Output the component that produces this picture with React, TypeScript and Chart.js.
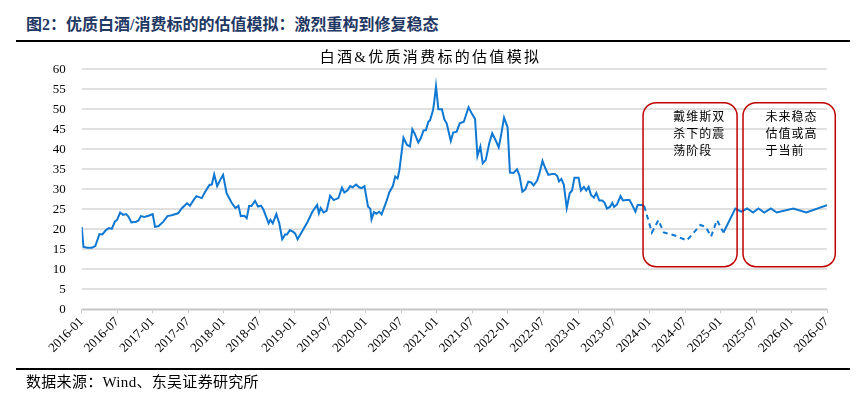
import React, { useEffect, useRef } from 'react';
import { Chart, registerables } from 'chart.js';
Chart.register(...registerables);

const headerTitle = '图2：优质白酒/消费标的的估值模拟：激烈重构到修复稳态';
const chartTitle = '白酒&优质消费标的估值模拟';
const footerText = '数据来源：Wind、东吴证券研究所';

const tickLabels = [
  '2016-01', '2016-07', '2017-01', '2017-07', '2018-01', '2018-07',
  '2019-01', '2019-07', '2020-01', '2020-07', '2021-01', '2021-07',
  '2022-01', '2022-07', '2023-01', '2023-07', '2024-01', '2024-07',
  '2025-01', '2025-07', '2026-01', '2026-07',
];

// months elapsed since 2016-01
const months = [
  0, 0.3, 1.0, 1.7, 2.3, 3.0, 3.5, 4.1, 4.6, 5.1, 5.6, 6.0, 6.5, 7.0, 7.5, 7.9,
  8.4, 9.2, 9.6, 10.0, 10.6, 11.3, 12.0, 12.4, 13.0, 13.8, 14.5, 15.2, 16.3, 16.9,
  17.8, 18.3, 18.9, 19.4, 20.3, 20.8, 21.6, 22.0, 22.4, 22.9, 23.4, 23.9, 24.5,
  25.4, 26.0, 26.5, 26.9, 27.5, 27.9, 28.3, 28.7, 29.3, 29.8, 30.3, 30.7, 31.6,
  31.9, 32.3, 32.9, 33.4, 33.9, 34.4, 34.7, 35.2, 35.7, 36.1, 36.5, 38.2, 39.0,
  39.8, 40.1, 40.4, 40.9, 41.4, 42.0, 42.6, 43.4, 44.0, 44.4, 44.9, 45.4, 45.8,
  46.4, 46.9, 47.3, 47.8, 48.4, 48.8, 49.0, 49.4, 49.8, 50.3, 50.7, 51.5, 52.0,
  52.6, 53.0, 53.4, 53.7, 54.4, 55.0, 55.5, 55.9, 56.3, 56.9, 57.3, 57.8, 58.2,
  58.6, 58.9, 59.4, 59.6, 59.9, 60.3, 60.9, 61.3, 61.7, 62.4, 62.8, 63.4, 63.9,
  64.6, 65.4, 66.0, 66.5, 66.9, 67.4, 67.8, 68.3, 68.9, 69.4, 70.0, 70.5, 70.9,
  71.4, 72.0, 72.4, 73.0, 73.6, 74.0, 74.5, 75.0, 75.5, 76.0, 76.4, 77.0, 77.4,
  77.9, 78.4, 78.9, 79.5, 80.0, 80.4, 80.7, 81.1, 81.5, 82.0, 82.5, 82.9, 83.3,
  84.0, 84.4, 84.9, 85.3, 85.7, 86.1, 86.6, 87.0, 87.5, 88.0, 88.4, 88.8, 89.3,
  89.7, 90.0, 90.5, 91.1, 91.5, 92.1, 92.6, 93.0, 93.6, 94.0, 94.7, 95.1, 96.4,
  97.5, 98.4, 100.4, 102.3, 104.6, 105.5, 106.4, 107.4, 108.5, 110.5, 111.5,
  112.5, 113.5, 114.4, 115.4, 116.5, 117.5, 120.3, 122.5, 126.0,
];

const values = [
  20.6, 15.6, 15.4, 15.4, 15.8, 18.8, 18.7, 19.8, 20.3, 20.1, 21.9, 22.4, 24.2, 23.6, 23.8, 23.2,
  21.7, 21.9, 22.2, 23.3, 23.1, 23.4, 23.8, 20.6, 20.8, 21.9, 23.3, 23.5, 24.0, 25.2,
  26.5, 25.9, 27.3, 28.3, 27.8, 29.2, 31.1, 31.2, 33.7, 30.8, 32.3, 33.6, 29.0,
  26.5, 25.3, 25.9, 23.3, 23.4, 22.8, 25.8, 25.8, 27.1, 25.7, 25.9, 25.0, 21.5,
  22.4, 21.5, 23.8, 21.5, 17.5, 18.7, 18.7, 19.8, 19.4, 18.9, 17.5, 21.9, 24.4,
  26.1, 24.0, 25.3, 24.2, 24.6, 28.4, 27.3, 27.8, 30.4, 29.2, 29.7, 30.8, 30.5,
  31.2, 30.5, 30.3, 30.8, 25.7, 25.1, 22.5, 24.3, 23.9, 24.4, 23.75, 26.9, 29.2,
  30.8, 33.2, 32.7, 34.7, 42.9, 41.1, 40.7, 45.0, 43.9, 41.7, 42.7, 44.7, 44.8,
  46.9, 47.3, 49.8, 51.9, 55.8, 50.0, 50.0, 47.5, 46.5, 42.1, 44.2, 44.4, 46.5,
  46.9, 50.5, 48.8, 47.6, 38.3, 40.7, 36.5, 37.3, 41.5, 44.0, 42.2, 40.5, 43.5,
  47.9, 45.5, 34.2, 34.1, 35.0, 33.5, 29.4, 30.0, 31.9, 31.7, 31.0, 32.2, 34.1,
  37.1, 35.2, 33.6, 33.8, 33.8, 33.3, 32.0, 32.6, 31.2, 25.3, 29.0, 29.7, 32.9,
  32.9, 29.7, 30.6, 29.7, 30.6, 28.6, 27.9, 29.1, 27.2, 27.2, 26.6, 25.2, 25.6,
  26.6, 25.6, 26.2, 28.3, 27.2, 27.3, 27.3, 26.3, 24.4, 26.1, 26.1, 25.8, 19.2,
  22.3, 19.2, 18.4, 17.2, 21.1, 20.6, 18.2, 22.3, 19.2, 25.2, 24.4,
  25.2, 24.2, 25.2, 24.2, 25.2, 24.2, 25.2, 24.2, 26.0,
];

// dashed (simulated) stretch, in months
const dashFrom = 95.1;
const dashTo = 108.5;

// annotation boxes, in data units (months / valuation)
const boxX0 = [94.9, 111.8];
const boxX1 = [110.8, 127.4];
const boxYTop = [51.65, 51.65];
const boxYBottom = [10.65, 10.65];
const boxTextX = [100.0, 115.6];
const boxTextY = [48.3, 44.0, 39.7];
const boxTexts = [
  ['戴维斯双', '杀下的震', '荡阶段'],
  ['未来稳态', '估值或高', '于当前'],
];

const serifCJK = '"Liberation Serif", "Noto Sans CJK SC", serif';

const boxPlugin = {
  id: 'boxes',
  afterDatasetsDraw(chart: any) {
    const { ctx, scales } = chart;
    const xs = scales.x;
    const ys = scales.y;
    ctx.save();
    for (let i = 0; i < boxX0.length; i++) {
      const l = xs.getPixelForValue(boxX0[i]);
      const r = xs.getPixelForValue(boxX1[i]);
      const t = ys.getPixelForValue(boxYTop[i]);
      const b = ys.getPixelForValue(boxYBottom[i]);
      ctx.beginPath();
      ctx.roundRect(l, t, r - l, b - t, 13);
      ctx.strokeStyle = '#C00000';
      ctx.lineWidth = 1.5;
      ctx.stroke();
      ctx.fillStyle = '#000';
      ctx.font = '12px "Noto Sans CJK SC"';
      (ctx as any).letterSpacing = '1px';
      ctx.textAlign = 'left';
      ctx.textBaseline = 'middle';
      boxTexts[i].forEach((line, j) => {
        ctx.fillText(line, xs.getPixelForValue(boxTextX[i]), ys.getPixelForValue(boxTextY[j]));
      });
    }
    ctx.restore();
  },
};

export default function App() {
  const ref = useRef<HTMLCanvasElement | null>(null);
  useEffect(() => {
    if (!ref.current) return;
    const points = months.map((m, i) => ({ x: m, y: values[i] }));
    const chart = new Chart(ref.current, {
      type: 'line',
      data: {
        datasets: [
          {
            data: points,
            borderColor: '#0F78D2',
            borderWidth: 2,
            pointRadius: 0,
            tension: 0,
            fill: false,
            segment: {
              borderDash: (c: any) =>
                c.p0.parsed.x >= dashFrom && c.p1.parsed.x <= dashTo ? [5, 4] : undefined,
            },
          },
        ],
      },
      options: {
        responsive: false,
        maintainAspectRatio: false,
        animation: false,
        layout: { padding: { left: 0, top: 69.3, right: 39, bottom: 0 } },
        plugins: { legend: { display: false }, tooltip: { enabled: false }, title: { display: false } },
        scales: {
          x: {
            type: 'linear',
            min: 0,
            max: 126,
            afterFit: (s: any) => { s.height = 87.7; },
            afterBuildTicks: (s: any) => {
              s.ticks = tickLabels.map((_, i) => ({ value: i * 6 }));
            },
            ticks: {
              autoSkip: false,
              maxRotation: 45,
              minRotation: 45,
              padding: 1,
              color: '#000',
              font: { family: serifCJK, size: 13 },
              callback: (v: any) => tickLabels[Math.round(Number(v) / 6)],
            },
            grid: { drawOnChartArea: false, drawTicks: true, tickLength: 4, color: '#c8c8c8' },
            border: { display: true, color: '#c8c8c8', width: 1.5 },
          },
          y: {
            min: 0,
            max: 60,
            afterFit: (s: any) => { s.width = 81.7; },
            ticks: {
              stepSize: 5,
              padding: 16,
              color: '#000',
              font: { family: serifCJK, size: 13 },
            },
            grid: { drawTicks: false, color: '#e0e0e0', lineWidth: 2 },
            border: { display: false },
          },
        },
      },
      plugins: [boxPlugin],
    });
    return () => chart.destroy();
  }, []);

  return (
    <div style={{ position: 'fixed', left: 0, top: 0, width: 866, height: 397, background: '#fff', overflow: 'hidden' }}>
      <div style={{ position: 'absolute', left: 26, top: 15, fontFamily: serifCJK, fontWeight: 'bold', fontSize: 16, lineHeight: '20px', color: '#1F3864', whiteSpace: 'nowrap' }}>
        {headerTitle}
      </div>
      <div style={{ position: 'absolute', left: 16, top: 40, width: 834, height: 2, background: '#000' }} />
      <canvas ref={ref} width={866} height={397} style={{ position: 'absolute', left: 0, top: 0 }} />
      <div style={{ position: 'absolute', left: 0, width: 861, top: 47, textAlign: 'center', fontFamily: serifCJK, fontSize: 15, lineHeight: '20px', letterSpacing: '2.3px', color: '#000', whiteSpace: 'nowrap' }}>
        {chartTitle}
      </div>
      <div style={{ position: 'absolute', left: 16, top: 368, width: 834, height: 2, background: '#000' }} />
      <div style={{ position: 'absolute', left: 26, top: 372, fontFamily: serifCJK, fontSize: 15, lineHeight: '20px', letterSpacing: '0.3px', color: '#000', whiteSpace: 'nowrap' }}>
        {footerText}
      </div>
    </div>
  );
}
